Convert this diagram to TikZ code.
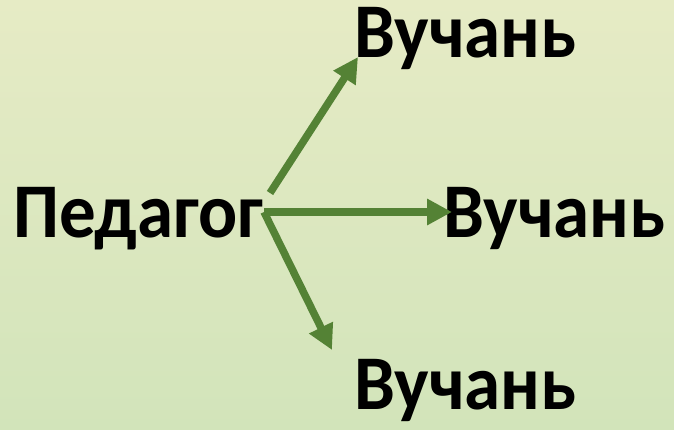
\documentclass[tikz,border=0pt]{standalone}
\usepackage{fontspec}
\setmainfont{Carlito}
\usetikzlibrary{arrows.meta}
\definecolor{bgtop}{RGB}{230,235,197}
\definecolor{bgbot}{RGB}{210,228,186}
\definecolor{arrgreen}{RGB}{84,130,53}
\tikzstyle{word}   = [inner sep=0pt, anchor=base west, font=\fontsize{73}{80}\selectfont\bfseries]
\tikzstyle{garrow} = [draw=arrgreen, line width=7.5pt, -{Triangle[length=25pt,width=25pt]}]
\def\tall#1{\scalebox{1}[1.06]{#1}}

\begin{document}
\begin{tikzpicture}[x=1pt,y=-1pt]
    \shade[top color=bgtop, bottom color=bgbot] (0,0) rectangle (674,429);
    \useasboundingbox (0,0) rectangle (674,429);
    \node[word] (ped)  at (13,237)  {\tall{Педагог}};
    \node[word] (vtop) at (354,57)  {\tall{Вучань}};
    \node[word] (vmid) at (443,237) {\tall{Вучань}};
    \node[word] (vbot) at (354,409) {\tall{Вучань}};
    \coordinate (s1) at (270,193);
    \coordinate (s2) at (264,212);
    \coordinate (e1) at (358,57);
    \coordinate (e2) at (452,212);
    \coordinate (e3) at (332,350);
    \draw[garrow] (s1) -- (e1);
    \draw[garrow] (s2) -- (e2);
    \draw[garrow] (s2) -- (e3);
\end{tikzpicture}
\end{document}
